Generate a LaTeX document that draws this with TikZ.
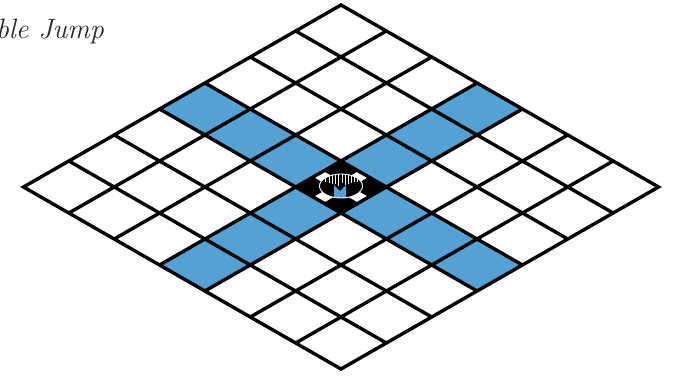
\documentclass[tikz,border=0pt]{standalone}
\usepackage{tikz}
\definecolor{jumpblue}{RGB}{83,162,211}
\tikzset{gridline/.style={line width=3.4pt,line cap=round,line join=miter},
 lobe/.style={fill=white}}

\begin{document}
\begin{tikzpicture}[x=1pt,y=-1pt]
\useasboundingbox (0,0) rectangle (678,376);
\node[anchor=base east,inner sep=0pt,text=black!85,font=\fontsize{28}{32}\selectfont\itshape] (title) at (104,38) {Double Jump};
% the board, one unit per square
\begin{scope}[shift={(341,5)},x={(45.36pt,-26pt)},y={(-45.36pt,-26pt)}]
\foreach \k in {0,1,2,4,5,6} {
\fill[jumpblue] (\k,3)--++(1,0)--++(0,1)--++(-1,0)--cycle;
\fill[jumpblue] (3,\k)--++(1,0)--++(0,1)--++(-1,0)--cycle;
}
\fill (3,3)--(4,3)--(4,4)--(3,4)--cycle;
\foreach \a/\b in {.38/0,-.38/0,0/.38,0/-.38}
\fill[lobe] (3.39+\a,3.39+\b)--++(.22,0)--++(0,.22)--++(-.22,0)--cycle;
\foreach \k in {1,...,6} {
\draw[gridline] (\k,0)--(\k,7);
\draw[gridline] (0,\k)--(7,\k);
}
\draw[gridline] (0,0)--(7,0)--(7,7)--(0,7)--cycle;
\end{scope}
% the hole with the piece in it
\begin{scope}[shift={(341,186)}]
\fill (0,0) ellipse (21.5 and 12);
\begin{scope}
\clip (0,0) ellipse (21.5 and 12);
\foreach \dx/\l in {-16/4,-12/7,-9/9,-6/10,-3/12,1/9,4/11,7/9,10/8,13/6,16/4}
\draw[white,line width=1pt] (\dx,{-12*sqrt(1-(\dx/21.5)^2)})--++(0,\l);
\fill[jumpblue] (-7,13)--(-7,-1)--(-1,5)--(5,-1)--(5,13)--cycle;
\end{scope}
\draw[white,line width=.9pt] (0,0) ellipse (21.5 and 12);
\end{scope}
\end{tikzpicture}
\end{document}
